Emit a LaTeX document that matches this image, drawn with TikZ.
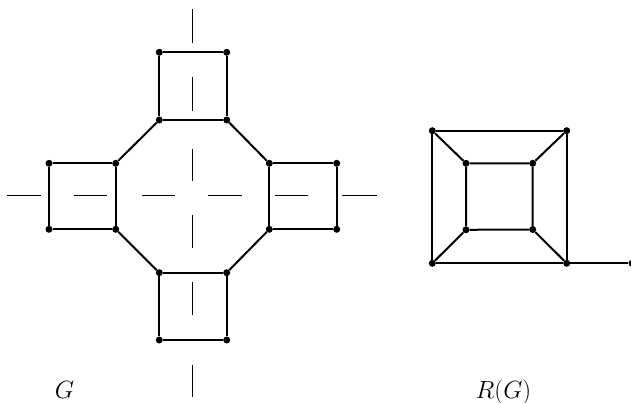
\documentclass[tikz,border=0pt]{standalone}
\begin{document}
\begin{tikzpicture}[x=1pt,y=-1pt,
  vtx/.style={circle,fill=black,inner sep=0pt,minimum size=7pt},
  edge/.style={line width=2pt},
  axis/.style={line width=1.5pt},
  lbl/.style={font=\fontsize{23}{27}\selectfont,inner sep=0pt}]
\useasboundingbox (0,0) rectangle (631,403);
% G vertices
\foreach \n/\x/\y in {t1/159.3/52.3,t2/226.7/52.3,t3/226.7/120,t4/159.3/120,
  r1/269.3/163.3,r2/336.7/163.3,r3/336.7/229.3,r4/269.3/229.3,
  b1/159.3/272.7,b2/226.7/272.7,b3/226.7/340,b4/159.3/340,
  la/49/163.3,l1/115.7/163.3,l4/115.7/229.3,lb/49/229.3}
  \node[vtx] (\n) at (\x,\y) {};
% squares
\draw[edge] (t1)--(t2)--(t3)--(t4)--(t1);
\draw[edge] (r1)--(r2)--(r3)--(r4)--(r1);
\draw[edge] (b1)--(b2)--(b3)--(b4)--(b1);
\draw[edge] (la)--(l1)--(l4)--(lb)--(la);
% octagon
\draw[edge] (t3)--(r1) (r4)--(b2) (b1)--(l4) (l1)--(t4);
% dashed axes
\foreach \a/\b in {9.3/43.3,77.3/110.7,149/180.7,215/248.3,281.7/315,365/396.7}
  \draw[axis] (192.3,\a)--(192.3,\b);
\foreach \a/\b in {6.7/40.7,74/107.3,141.7/175,208.3/241.7,275/308.3,341.7/376.7}
  \draw[axis] (\a,195.7)--(\b,195.7);
% R(G)
\foreach \n/\x/\y in {o1/432.3/130.7,o2/566.7/130.7,o3/566.7/263.3,o4/432.3/263.3,
  i1/466/163.3,i2/532.7/163.3,i3/532.7/229.5,i4/466/229.8,tl/632/263.3}
  \node[vtx] (\n) at (\x,\y) {};
\draw[edge] (o1)--(o2)--(o3)--(o4)--(o1);
\draw[edge] (i1)--(i2)--(i3)--(i4)--(i1);
\draw[edge] (o1)--(i1) (o2)--(i2) (o3)--(i3) (o4)--(i4);
\draw[edge] (o3)--(tl);
% labels
\node[lbl,anchor=base] (lG) at (64.5,398) {$G$};
\node[lbl,anchor=base] (lR) at (503.5,398) {$R(G)$};
\end{tikzpicture}
\end{document}
